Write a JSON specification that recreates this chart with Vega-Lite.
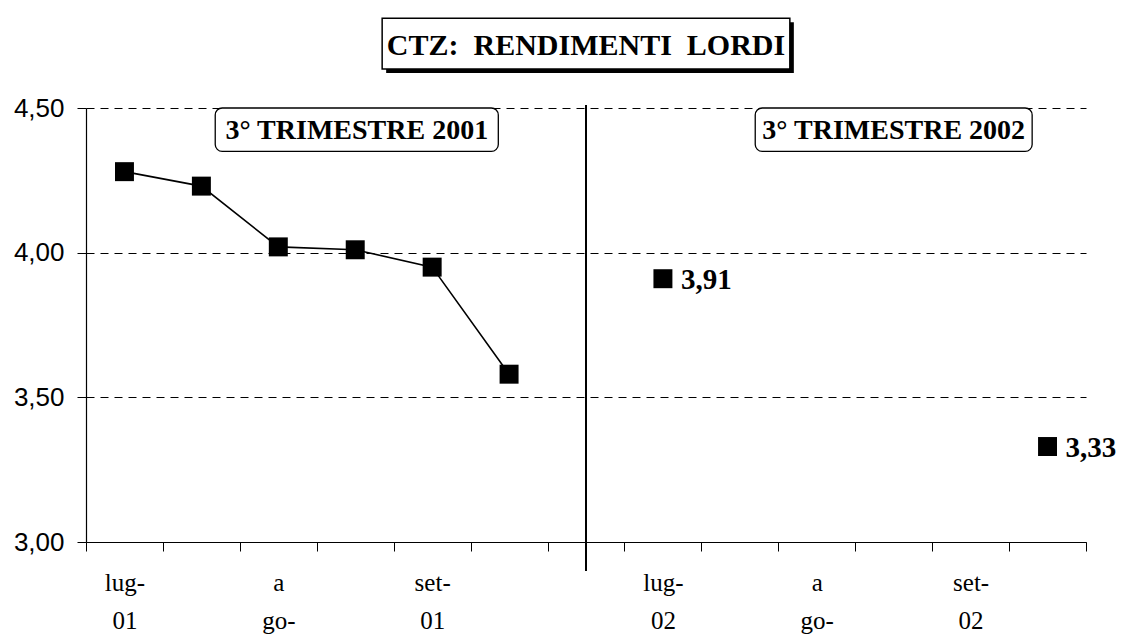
{
  "$schema": "https://vega.github.io/schema/vega-lite/v6.json",
  "width": 1000,
  "height": 434,
  "autosize": {"type": "none"},
  "padding": {"left": 86, "top": 108, "right": 35, "bottom": 95},
  "background": "white",
  "config": {
    "view": {"stroke": null},
    "locale": {"number": {"decimal": ",", "thousands": ".", "grouping": [3], "currency": ["", " €"]}}
  },
  "data": {
    "values": [
      {"pos": 1, "serie": "3° trimestre 2001", "rendimento": 4.28},
      {"pos": 2, "serie": "3° trimestre 2001", "rendimento": 4.23},
      {"pos": 3, "serie": "3° trimestre 2001", "rendimento": 4.02},
      {"pos": 4, "serie": "3° trimestre 2001", "rendimento": 4.01},
      {"pos": 5, "serie": "3° trimestre 2001", "rendimento": 3.95},
      {"pos": 6, "serie": "3° trimestre 2001", "rendimento": 3.58},
      {"pos": 8, "serie": "3° trimestre 2002", "rendimento": 3.91},
      {"pos": 13, "serie": "3° trimestre 2002", "rendimento": 3.33}
    ]
  },
  "layer": [
    {
      "data": {"values": [{}]},
      "mark": {"type": "rect", "fill": "#000", "xOffset": 4, "x2Offset": 4, "yOffset": 4, "y2Offset": 4, "clip": false},
      "encoding": {
        "x": {"datum": 4.35, "type": "quantitative", "scale": {"domain": [0.5, 13.5], "nice": false, "zero": false}},
        "x2": {"datum": 9.65},
        "y": {"datum": 4.81, "type": "quantitative", "scale": {"domain": [3, 4.5], "nice": false, "zero": false}},
        "y2": {"datum": 4.635}
      }
    },
    {
      "data": {"values": [{}]},
      "mark": {"type": "rect", "fill": "#fff", "stroke": "#000", "strokeWidth": 1.5, "clip": false},
      "encoding": {
        "x": {"datum": 4.35, "type": "quantitative"},
        "x2": {"datum": 9.65},
        "y": {"datum": 4.81, "type": "quantitative"},
        "y2": {"datum": 4.635}
      }
    },
    {
      "data": {"values": [{"titolo": "CTZ:\u00a0 RENDIMENTI\u00a0 LORDI"}]},
      "mark": {"type": "text", "font": "Liberation Serif", "fontWeight": "bold", "fontSize": 30, "color": "#000", "align": "center", "baseline": "alphabetic", "clip": false},
      "encoding": {
        "x": {"datum": 7, "type": "quantitative"},
        "y": {"datum": 4.683, "type": "quantitative"},
        "text": {"field": "titolo"}
      }
    },
    {
      "data": {"values": [{"x1": 2.18, "x2": 5.86, "xc": 4.02, "etichetta": "3° TRIMESTRE 2001"}, {"x1": 9.2, "x2": 12.8, "xc": 11.0, "etichetta": "3° TRIMESTRE 2002"}]},
      "layer": [
        {
          "mark": {"type": "rect", "fill": "#fff", "stroke": "#000", "strokeWidth": 1.3, "cornerRadius": 7, "clip": false},
          "encoding": {
            "x": {"field": "x1", "type": "quantitative"},
            "x2": {"field": "x2"},
            "y": {"datum": 4.5, "type": "quantitative"},
            "y2": {"datum": 4.35}
          }
        },
        {
          "mark": {"type": "text", "font": "Liberation Serif", "fontWeight": "bold", "fontSize": 28, "color": "#000", "align": "center", "baseline": "middle", "dy": 1},
          "encoding": {
            "x": {"field": "xc", "type": "quantitative"},
            "y": {"datum": 4.425, "type": "quantitative"},
            "text": {"field": "etichetta"}
          }
        }
      ]
    },
    {
      "data": {"values": [{}]},
      "mark": {"type": "rule", "color": "#000", "strokeWidth": 2, "clip": false},
      "encoding": {
        "x": {"datum": 7, "type": "quantitative"},
        "y": {"datum": 4.51, "type": "quantitative"},
        "y2": {"datum": 2.9}
      }
    },
    {
      "transform": [{"filter": "datum.serie === '3° trimestre 2001'"}],
      "mark": {"type": "line", "color": "#000", "strokeWidth": 1.6},
      "encoding": {
        "x": {"field": "pos", "type": "quantitative"},
        "y": {"field": "rendimento", "type": "quantitative"}
      }
    },
    {
      "mark": {"type": "square", "size": 360, "filled": true, "color": "#000", "opacity": 1},
      "encoding": {
        "x": {
          "field": "pos", "type": "quantitative",
          "axis": {
            "title": null,
            "values": [0.5, 1, 1.5, 2.5, 3, 3.5, 4.5, 5, 5.5, 6.5, 7.5, 8, 8.5, 9.5, 10, 10.5, 11.5, 12, 12.5, 13.5],
            "labelExpr": "datum.value == 1 ? ['lug-', '01'] : datum.value == 3 ? ['a', 'go-'] : datum.value == 5 ? ['set-', '01'] : datum.value == 8 ? ['lug-', '02'] : datum.value == 10 ? ['a', 'go-'] : datum.value == 12 ? ['set-', '02'] : ''",
            "grid": false,
            "domainColor": "#000",
            "domainWidth": 1.2,
            "tickColor": "#000",
            "tickWidth": 1,
            "tickSize": 9,
            "tickOpacity": {"condition": {"test": "datum.value % 1 === 0", "value": 0}, "value": 1},
            "labelFont": "Liberation Serif",
            "labelFontSize": 25,
            "labelColor": "#000",
            "labelLineHeight": 38,
            "labelPadding": 19,
            "labelOverlap": false,
            "labelFlush": false,
            "labelBound": false
          }
        },
        "y": {
          "field": "rendimento", "type": "quantitative",
          "axis": {
            "title": null,
            "values": [3, 3.5, 4, 4.5],
            "format": ".2f",
            "grid": true,
            "gridDash": [8, 6],
            "gridColor": "#000",
            "gridWidth": 1,
            "domainColor": "#000",
            "domainWidth": 1.2,
            "tickColor": "#000",
            "tickSize": 9,
            "labelFont": "Liberation Sans",
            "labelFontSize": 26,
            "labelColor": "#000",
            "labelPadding": 13
          }
        }
      }
    },
    {
      "transform": [{"filter": "datum.serie === '3° trimestre 2002'"}],
      "mark": {"type": "text", "font": "Liberation Serif", "fontWeight": "bold", "fontSize": 29, "color": "#000", "align": "left", "baseline": "middle", "dx": 18, "dy": 1, "clip": false},
      "encoding": {
        "x": {"field": "pos", "type": "quantitative"},
        "y": {"field": "rendimento", "type": "quantitative"},
        "text": {"field": "rendimento", "type": "quantitative", "format": ".2f"}
      }
    }
  ]
}
